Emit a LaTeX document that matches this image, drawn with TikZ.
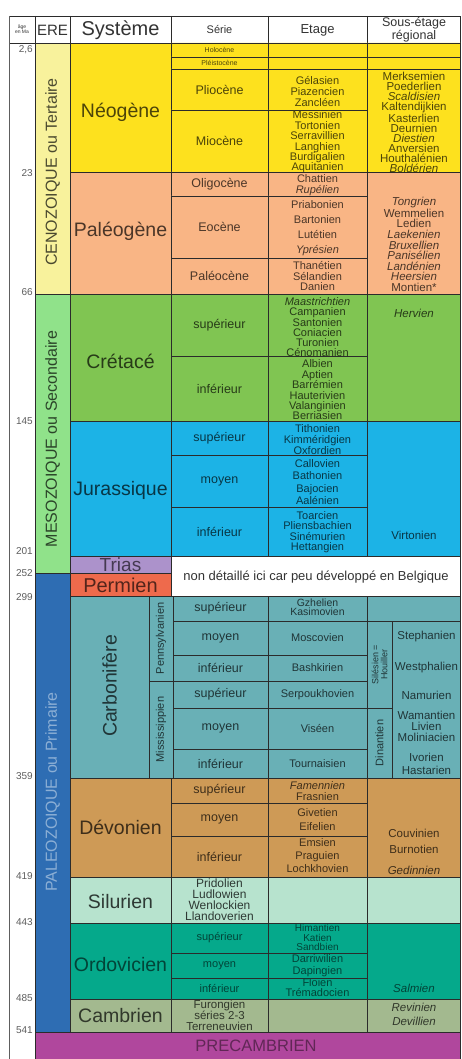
\documentclass[tikz,border=0pt]{standalone}
\usepackage{fontspec}
\setmainfont{Liberation Sans}
\definecolor{rule}{HTML}{2B2B2B}
\definecolor{agegray}{HTML}{5E5E5E}
\definecolor{hdrgray}{HTML}{333333}
\definecolor{cenoera}{HTML}{F8F29C}
\definecolor{mesoera}{HTML}{90E28A}
\definecolor{paleoera}{HTML}{2E6DB3}
\definecolor{neogene}{HTML}{FDE11E}
\definecolor{paleogene}{HTML}{F9B585}
\definecolor{cretace}{HTML}{80C552}
\definecolor{jurass}{HTML}{1CB3E6}
\definecolor{trias}{HTML}{AC92CB}
\definecolor{permien}{HTML}{EE6A4C}
\definecolor{carbon}{HTML}{69B0B6}
\definecolor{devon}{HTML}{CE9A56}
\definecolor{silur}{HTML}{B7E3CE}
\definecolor{ordovic}{HTML}{05A98B}
\definecolor{cambr}{HTML}{A3B98F}
\definecolor{precam}{HTML}{B0479D}
\tikzset{
  cell/.style={draw=rule, line width=0.9pt},
  hdr/.style={text=hdrgray, align=center},
  era/.style={rotate=90, font=\fontsize{16}{16}\selectfont},
  sys/.style={font=\fontsize{19.5}{20}\selectfont},
  ser/.style={font=\fontsize{12.5}{13}\selectfont},
  stg/.style={align=center, font=\fontsize{11}{10.4}\selectfont},
  reg/.style={align=center, font=\fontsize{11.5}{10.3}\selectfont},
  age/.style={anchor=east, text=agegray, font=\fontsize{10}{10}\selectfont},
}

\begin{document}
\begin{tikzpicture}[x=1pt, y=-1pt, every node/.style={inner sep=0pt}]
\useasboundingbox (0,0) rectangle (461,1059);
\fill[white] (0,0) rectangle (461,1059);

% header
\path[cell, fill=white] (9,16) rectangle (460.5,43);
\foreach \xx in {35,70,171,268,367} \draw[cell] (\xx,16) -- (\xx,43);
\node[hdr, font=\fontsize{5}{5.5}\selectfont] (hage) at (22,29) {âge\\en Ma};
\node[hdr, font=\fontsize{15}{15}\selectfont] (hera) at (52.5,30) {ERE};
\node[hdr, font=\fontsize{20}{20}\selectfont] (hsys) at (120.5,30) {Système};
\node[hdr, font=\fontsize{11}{11}\selectfont] (hser) at (219.5,30) {Série};
\node[hdr, font=\fontsize{13}{13}\selectfont] (hetg) at (317.5,30) {Etage};
\node[hdr, font=\fontsize{12.5}{10}\selectfont] (hreg) at (414,29.5) {Sous-étage\\régional};

% age column
\draw[cell, draw=agegray] (9,16) -- (9,1059);
\foreach \yy/\lab in {50/{2,6},173/23,292/66,421/145,551/201,573/252,597/299,776/359,876/419,922/443,998/485,1030/541}
  \node[age] (a\yy) at (33,\yy) {\lab};

% eres
\path[cell, fill=cenoera] (35,43) rectangle (70,294);
\path[cell, fill=mesoera] (35,294) rectangle (70,573);
\path[cell, fill=paleoera] (35,573) rectangle (70,1032);
\path[cell, fill=precam] (35,1032) rectangle (460.5,1062);
\node[era, text=cenoera!30!black] (ceno) at (52.5,172) {CENOZOIQUE ou Tertaire};
\node[era, text=mesoera!30!black] (meso) at (52.5,439) {MESOZOIQUE ou Secondaire};
\node[era, text=paleoera!55!white] (paleo) at (52.5,792) {PALEOZOIQUE ou Primaire};
\node[font=\fontsize{16.5}{17}\selectfont, text=precam!55!black] (prec) at (256,1046) {PRECAMBRIEN};

% Neogene
\path[cell, fill=neogene] (70,43) rectangle (171,172);
\foreach \ya/\yb in {43/57,57/69,69/110,110/172}
  \path[cell, fill=neogene] (171,\ya) rectangle (268,\yb) (268,\ya) rectangle (367,\yb);
\path[cell, fill=neogene] (367,43) rectangle (460.5,57) (367,57) rectangle (460.5,69) (367,69) rectangle (460.5,172);
\begin{scope}[every node/.append style={text=neogene!30!black}]
\node[sys] (neo) at (120.5,112) {Néogène};
\node[font=\fontsize{7}{7}\selectfont] (holo) at (219.5,50) {Holocène};
\node[font=\fontsize{7}{7}\selectfont] (pleis) at (219.5,63) {Pléistocène};
\node[ser] (plio) at (219.5,89.5) {Pliocène};
\node[ser] (mio) at (219.5,141) {Miocène};
\node[stg, font=\fontsize{11}{11}\selectfont] (eplio) at (317.5,92) {Gélasien\\Piazencien\\Zancléen};
\node[stg] (emio) at (317.5,142) {Messinien\\Tortonien\\Serravillien\\Langhien\\Burdigalien\\Aquitanien};
\node[reg, font=\fontsize{11.5}{10.1}\selectfont] (rneo) at (414,122.5) {Merksemien\\Poederlien\\\textit{Scaldisien}\\Kaltendijkien\\Kasterlien\\Deurnien\\\textit{Diestien}\\Anversien\\Houthalénien\\\textit{Boldérien}};
\end{scope}

% Paleogene
\path[cell, fill=paleogene] (70,172) rectangle (171,294);
\foreach \ya/\yb in {172/196,196/258,258/294}
  \path[cell, fill=paleogene] (171,\ya) rectangle (268,\yb) (268,\ya) rectangle (367,\yb);
\path[cell, fill=paleogene] (367,172) rectangle (460.5,294);
\begin{scope}[every node/.append style={text=paleogene!30!black}]
\node[sys] (pgn) at (120.5,231) {Paléogène};
\node[ser] (oligo) at (219.5,184) {Oligocène};
\node[ser] (eoc) at (219.5,227) {Eocène};
\node[ser] (paleoc) at (219.5,276) {Paléocène};
\node[stg, font=\fontsize{11}{11}\selectfont] (eoligo) at (317.5,185.5) {Chattien\\\textit{Rupélien}};
\node[stg, font=\fontsize{11}{15}\selectfont] (eeoc) at (317.5,228.5) {Priabonien\\Bartonien\\Lutétien\\\textit{Yprésien}};
\node[stg, font=\fontsize{11}{10.5}\selectfont] (epaleoc) at (317.5,276.5) {Thanétien\\Sélandien\\Danien};
\node[reg, font=\fontsize{11.5}{10.6}\selectfont] (rpgn) at (414,244.5) {\textit{Tongrien}\\Wemmelien\\Ledien\\\textit{Laekenien}\\\textit{Bruxellien}\\\textit{Panisélien}\\\textit{Landénien}\\\textit{Heersien}\\Montien*};
\end{scope}

% Cretace
\path[cell, fill=cretace] (70,294) rectangle (171,421);
\foreach \ya/\yb in {294/356,356/421}
  \path[cell, fill=cretace] (171,\ya) rectangle (268,\yb) (268,\ya) rectangle (367,\yb);
\path[cell, fill=cretace] (367,294) rectangle (460.5,421);
\begin{scope}[every node/.append style={text=cretace!30!black}]
\node[sys] (cret) at (120.5,361) {Crétacé};
\node[ser] (csup) at (219.5,325) {supérieur};
\node[ser] (cinf) at (219.5,388.5) {inférieur};
\node[stg, font=\fontsize{11}{10}\selectfont] (ecsup) at (317.5,327) {\textit{Maastrichtien}\\Campanien\\Santonien\\Coniacien\\Turonien\\Cénomanien};
\node[stg] (ecinf) at (317.5,390) {Albien\\Aptien\\Barrémien\\Hauterivien\\Valanginien\\Berriasien};
\node[reg] (rcret) at (414,313) {\textit{Hervien}};
\end{scope}

% Jurassique
\path[cell, fill=jurass] (70,421) rectangle (171,556);
\foreach \ya/\yb in {421/455,455/507,507/556}
  \path[cell, fill=jurass] (171,\ya) rectangle (268,\yb) (268,\ya) rectangle (367,\yb);
\path[cell, fill=jurass] (367,421) rectangle (460.5,556);
\begin{scope}[every node/.append style={text=jurass!30!black}]
\node[sys] (jur) at (120.5,490) {Jurassique};
\node[ser] (jsup) at (219.5,438) {supérieur};
\node[ser] (jmoy) at (219.5,481) {moyen};
\node[ser] (jinf) at (219.5,531.5) {inférieur};
\node[stg, font=\fontsize{11}{11}\selectfont] (ejsup) at (317.5,440) {Tithonien\\Kimméridgien\\Oxfordien};
\node[stg, font=\fontsize{11}{12.5}\selectfont] (ejmoy) at (317.5,482) {Callovien\\Bathonien\\Bajocien\\Aalénien};
\node[stg] (ejinf) at (317.5,532) {Toarcien\\Pliensbachien\\Sinémurien\\Hettangien};
\node[reg] (rjur) at (414,535) {Virtonien};
\end{scope}

% Trias et Permien
\path[cell, fill=trias] (70,556) rectangle (171,573);
\path[cell, fill=permien] (70,573) rectangle (171,596);
\path[cell, fill=white] (171,556) rectangle (460.5,596);
\node[sys, font=\fontsize{19}{19}\selectfont, text=trias!40!black] (tri) at (120.5,565) {Trias};
\node[sys, font=\fontsize{20}{20}\selectfont, text=permien!35!black] (perm) at (120.5,585) {Permien};
\node[font=\fontsize{13}{13}\selectfont, text=hdrgray] (nondet) at (316,577) {non détaillé ici car peu développé en Belgique};

% Carbonifere
\path[cell, fill=carbon] (70,596) rectangle (149,778);
\path[cell, fill=carbon] (149,596) rectangle (173,681) (149,681) rectangle (173,778);
\foreach \ya/\yb in {596/621,621/655,655/681,681/708,708/749,749/778}
  \path[cell, fill=carbon] (173,\ya) rectangle (268,\yb) (268,\ya) rectangle (367,\yb);
\path[cell, fill=carbon] (367,596) rectangle (460.5,621) (367,621) rectangle (392,708) (367,708) rectangle (392,778) (392,621) rectangle (460.5,778);
\begin{scope}[every node/.append style={text=carbon!30!black}]
\node[sys, rotate=90] (carb) at (109.5,686) {Carbonifère};
\node[rotate=90, font=\fontsize{11}{11}\selectfont] (penn) at (161,638.5) {Pennsylvanien};
\node[rotate=90, font=\fontsize{11}{11}\selectfont] (miss) at (161,729.5) {Mississippien};
\node[ser] (psup) at (220.5,608.5) {supérieur};
\node[ser] (pmoy) at (220.5,638) {moyen};
\node[ser] (pinf) at (220.5,668) {inférieur};
\node[ser] (msup) at (220.5,694.5) {supérieur};
\node[ser] (mmoy) at (220.5,728.5) {moyen};
\node[ser] (minf) at (220.5,763.5) {inférieur};
\node[stg, font=\fontsize{10.5}{9}\selectfont] (epsup) at (317.5,607.5) {Gzhelien\\Kasimovien};
\node[stg] (epmoy) at (317.5,638) {Moscovien};
\node[stg] (epinf) at (317.5,668) {Bashkirien};
\node[stg] (emsup) at (317.5,694.5) {Serpoukhovien};
\node[stg] (emmoy) at (317.5,728.5) {Viséen};
\node[stg] (eminf) at (317.5,763.5) {Tournaisien};
\node[rotate=90, align=center, font=\fontsize{9}{9}\selectfont] (siles) at (379.5,664.5) {Silésien =\\Houiller};
\node[rotate=90, font=\fontsize{11}{11}\selectfont] (dinan) at (379.5,743) {Dinantien};
\node[reg] (rsteph) at (426.5,637) {Stephanien};
\node[reg] (rwest) at (426.5,668) {Westphalien};
\node[reg] (rnam) at (426.5,695) {Namurien};
\node[reg, font=\fontsize{11.5}{11}\selectfont] (rwam) at (426.5,726) {Wamantien\\Livien\\Moliniacien};
\node[reg, font=\fontsize{11.5}{13}\selectfont] (rivo) at (426.5,763.5) {Ivorien\\Hastarien};
\end{scope}

% Devonien
\path[cell, fill=devon] (70,778) rectangle (171,877);
\foreach \ya/\yb in {778/803,803/836,836/877}
  \path[cell, fill=devon] (171,\ya) rectangle (268,\yb) (268,\ya) rectangle (367,\yb);
\path[cell, fill=devon] (367,778) rectangle (460.5,877);
\begin{scope}[every node/.append style={text=devon!30!black}]
\node[sys] (dev) at (120.5,827) {Dévonien};
\node[ser] (dsup) at (219.5,790.5) {supérieur};
\node[ser] (dmoy) at (219.5,819.5) {moyen};
\node[ser] (dinf) at (219.5,856.5) {inférieur};
\node[stg, font=\fontsize{11}{11}\selectfont] (edsup) at (317.5,791.5) {\textit{Famennien}\\Frasnien};
\node[stg, font=\fontsize{11}{14}\selectfont] (edmoy) at (317.5,820) {Givetien\\Eifelien};
\node[stg, font=\fontsize{11}{13}\selectfont] (edinf) at (317.5,856) {Emsien\\Praguien\\Lochkhovien};
\node[reg] (rcouv) at (414,833) {Couvinien};
\node[reg] (rburn) at (414,849) {Burnotien};
\node[reg] (rged) at (414,870) {\textit{Gedinnien}};
\end{scope}

% Silurien
\path[cell, fill=silur] (70,877) rectangle (171,923) (171,877) rectangle (268,923) (268,877) rectangle (367,923) (367,877) rectangle (460.5,923);
\begin{scope}[every node/.append style={text=silur!25!black}]
\node[sys] (sil) at (120.5,902) {Silurien};
\node[stg, font=\fontsize{12}{11}\selectfont] (ssil) at (219.5,900) {Pridolien\\Ludlowien\\Wenlockien\\Llandoverien};
\end{scope}

% Ordovicien
\path[cell, fill=ordovic] (70,923) rectangle (171,999);
\foreach \ya/\yb in {923/953,953/978,978/999}
  \path[cell, fill=ordovic] (171,\ya) rectangle (268,\yb) (268,\ya) rectangle (367,\yb);
\path[cell, fill=ordovic] (367,923) rectangle (460.5,999);
\begin{scope}[every node/.append style={text=ordovic!40!black}]
\node[sys] (ordo) at (120.5,965) {Ordovicien};
\node[ser, font=\fontsize{11}{11}\selectfont] (osup) at (219.5,938) {supérieur};
\node[ser, font=\fontsize{11}{11}\selectfont] (omoy) at (219.5,965.5) {moyen};
\node[ser, font=\fontsize{11}{11}\selectfont] (oinf) at (219.5,988.5) {inférieur};
\node[stg, font=\fontsize{10}{9.5}\selectfont] (eosup) at (317.5,937.5) {Himantien\\Katien\\Sandbien};
\node[stg, font=\fontsize{11}{12.5}\selectfont] (eomoy) at (317.5,965.5) {Darriwilien\\Dapingien};
\node[stg, font=\fontsize{11}{10}\selectfont] (eoinf) at (317.5,988) {Floien\\Trémadocien};
\node[reg] (rsalm) at (414,988) {\textit{Salmien}};
\end{scope}

% Cambrien
\path[cell, fill=cambr] (70,999) rectangle (171,1032) (171,999) rectangle (268,1032) (268,999) rectangle (367,1032) (367,999) rectangle (460.5,1032);
\begin{scope}[every node/.append style={text=cambr!30!black}]
\node[sys] (camb) at (120.5,1016) {Cambrien};
\node[stg, font=\fontsize{11.5}{11}\selectfont] (scamb) at (219.5,1015.5) {Furongien\\séries 2-3\\Terreneuvien};
\node[reg, font=\fontsize{11.5}{14}\selectfont] (rcamb) at (414,1014) {\textit{Revinien}\\\textit{Devillien}};
\end{scope}
\end{tikzpicture}
\end{document}
